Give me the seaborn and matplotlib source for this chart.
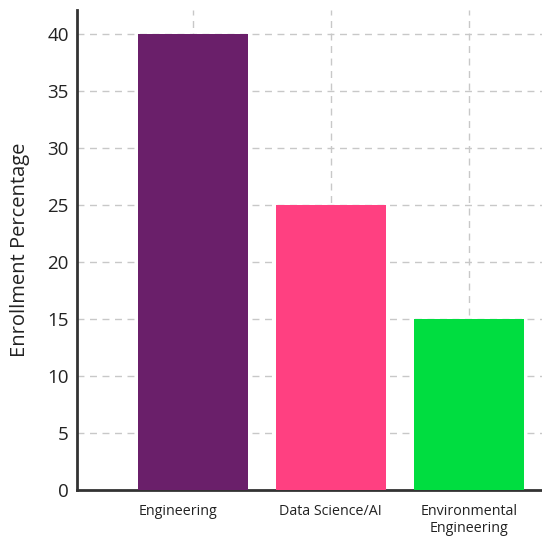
import matplotlib
matplotlib.use("Agg")
import matplotlib.pyplot as plt
import matplotlib.transforms as mtransforms
import seaborn as sns
import pandas as pd

categories = ["Engineering", "Data Science/AI", "Environmental\nEngineering"]
values = [40, 25, 15]
colors = ["#6A1F6A", "#FF4081", "#00DD40"]

sns.set_style("white")
plt.rcParams["font.family"] = ["Open Sans", "DejaVu Sans"]

df = pd.DataFrame({"Field": categories, "Enrollment": values})

fig = plt.figure(figsize=(5.42, 5.38), dpi=100)
ax = fig.add_axes([0.142, 0.089, 0.858, 0.892])
sns.barplot(data=df, x="Field", y="Enrollment", hue="Field", palette=colors,
            width=0.8, ax=ax, legend=False, saturation=1, zorder=3, linewidth=0)

ax.set_xlim(-0.84, 2.53)
ax.set_ylim(0, 42.1)
ax.set_yticks(range(0, 41, 5))
ax.grid(True, axis="both", linestyle=(0, (5, 4)), color="#c8c8c8", linewidth=1, zorder=0)
ax.set_axisbelow(True)
for s in ["top", "right"]:
    ax.spines[s].set_visible(False)
for s in ["left", "bottom"]:
    ax.spines[s].set_color("#333333")
    ax.spines[s].set_linewidth(2)
ax.tick_params(axis="y", labelsize=13.5, length=0, pad=6, colors="#222222")
ax.tick_params(axis="x", labelsize=10.3, length=0, pad=10, colors="#222222")
ax.set_xlabel("")
ax.set_ylabel("Enrollment Percentage", fontsize=14.5, color="#222222", labelpad=12)

fig.canvas.draw()
lbl = ax.get_xticklabels()[0]
lbl.set_transform(lbl.get_transform() + mtransforms.ScaledTranslation(-0.15, 0, fig.dpi_scale_trans))

fig.savefig("out.png", dpi=100)
